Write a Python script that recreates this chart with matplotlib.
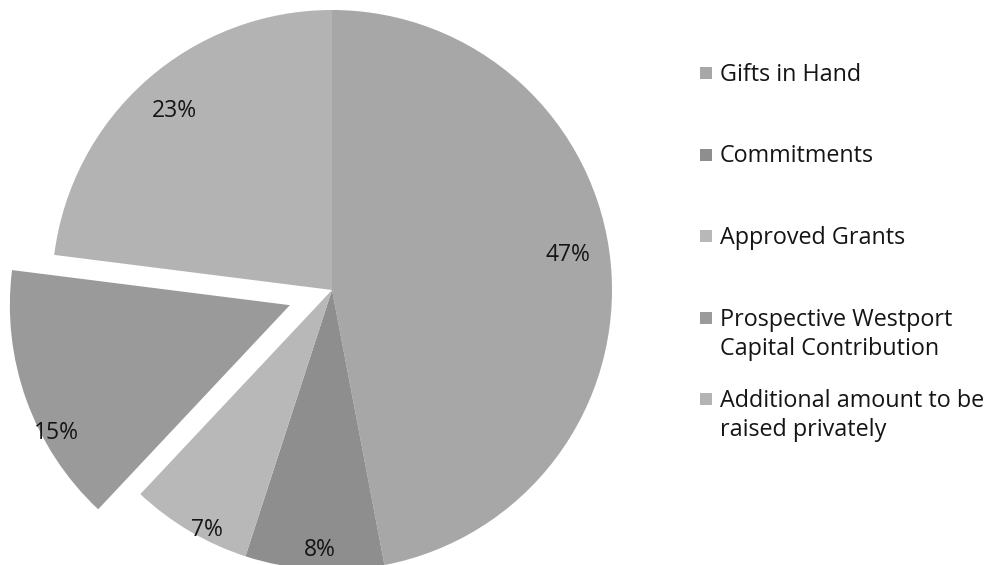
import numpy as np
import matplotlib.pyplot as plt
from matplotlib.patches import Rectangle

plt.rcParams['font.family'] = ['Open Sans', 'DejaVu Sans']

# andelar av finansieringen
kategorier = ["Gifts in Hand", "Commitments", "Approved Grants",
              "Prospective Westport\nCapital Contribution",
              "Additional amount to be\nraised privately"]
andelar = [47, 8, 7, 15, 23]
farger = ["#a7a7a7", "#8e8e8e", "#b8b8b8", "#9a9a9a", "#b3b3b3"]
utdrag = [0, 0, 0, 0.16, 0]

# etikettplacering per tårtbit (avstånd från mitten, vinkeljustering i grader)
etikett_r = [0.85, 0.93, 0.966, 0.95, 0.85]
etikett_vinkel = [3, 1, 3, 9, 0]

W, H, DPI = 987, 565, 100
fig = plt.figure(figsize=(W / DPI, H / DPI), dpi=DPI)
ax = fig.add_axes([0, 0, 1, 1])

cx, cy, R = 332, 290, 280  # pixlar

wedges, _ = ax.pie(andelar, colors=farger, startangle=90, counterclock=False,
                   explode=utdrag, radius=1, frame=True,
                   wedgeprops=dict(linewidth=0))
ax.set_xlim(-cx / R, (W - cx) / R)
ax.set_ylim(-(H - cy) / R, cy / R)
ax.set_aspect('equal')
ax.axis('off')

# procentetiketter
for w, p, r, dv in zip(wedges, andelar, etikett_r, etikett_vinkel):
    mid = np.deg2rad((w.theta1 + w.theta2) / 2 + dv)
    x0, y0 = w.center
    ax.text(x0 + r * np.cos(mid), y0 + r * np.sin(mid), f"{p}%",
            ha='center', va='center', fontsize=16.5, color='#151515')

# förklaring till höger
for i, (namn, f) in enumerate(zip(kategorier, farger)):
    yc = 73 + i * 81.5
    fig.patches.append(Rectangle((700 / W, 1 - (yc + 6) / H), 12 / W, 12 / H,
                                 transform=fig.transFigure, facecolor=f,
                                 edgecolor='none'))
    fig.text(720 / W, 1 - (yc - 10) / H, namn, ha='left', va='top',
             fontsize=16.8, color='#151515', linespacing=1.28)

fig.savefig("out.png", dpi=DPI, facecolor='white')
